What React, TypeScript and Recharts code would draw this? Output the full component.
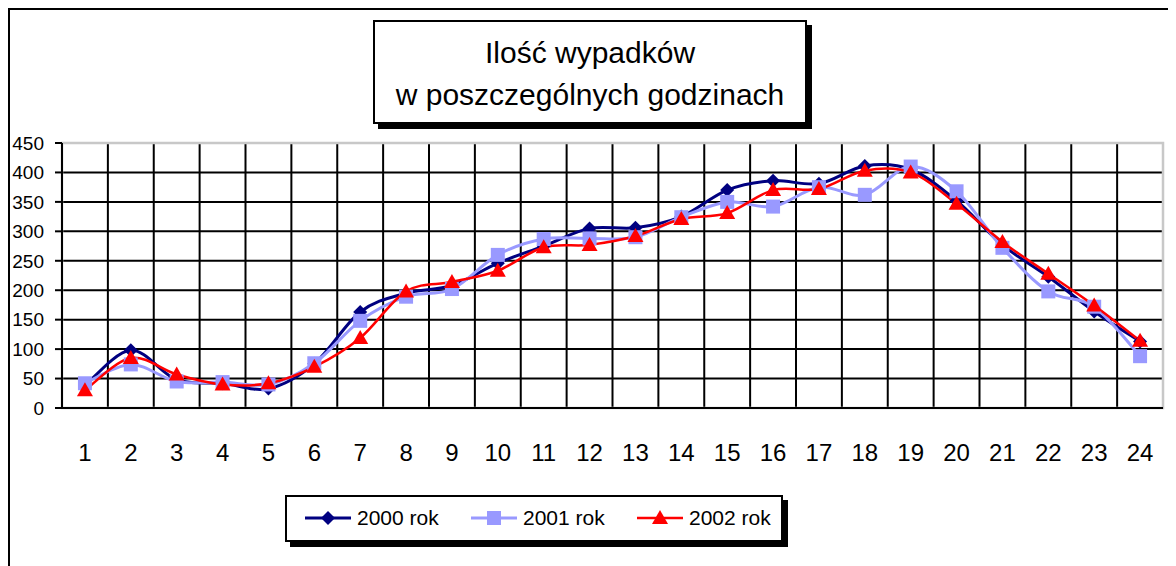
import React from "react";
import {
  LineChart,
  Line,
  XAxis,
  YAxis,
  CartesianGrid,
  Legend,
  ReferenceArea,
} from "recharts";

const hours = [1, 2, 3, 4, 5, 6, 7, 8, 9, 10, 11, 12, 13, 14, 15, 16, 17, 18, 19, 20, 21, 22, 23, 24];
const y2000 = [38, 98, 48, 42, 33, 75, 163, 195, 208, 246, 275, 305, 306, 325, 370, 386, 381, 411, 405, 352, 277, 223, 164, 113];
const y2001 = [42, 74, 45, 44, 40, 76, 148, 189, 202, 260, 287, 288, 290, 324, 350, 342, 375, 362, 410, 368, 272, 198, 172, 88];
const y2002 = [30, 85, 57, 40, 42, 70, 119, 198, 214, 233, 273, 277, 292, 321, 331, 370, 372, 403, 400, 347, 282, 228, 174, 114];
const yTicks = [0, 50, 100, 150, 200, 250, 300, 350, 400, 450];
const xBoundaryTicks = [0.5, 1.5, 2.5, 3.5, 4.5, 5.5, 6.5, 7.5, 8.5, 9.5, 10.5, 11.5, 12.5, 13.5, 14.5, 15.5, 16.5, 17.5, 18.5, 19.5, 20.5, 21.5, 22.5, 23.5, 24.5];
const xGridTicks = xBoundaryTicks.slice(0, 24);
const titleLines = ["Ilość wypadków", "w poszczególnych godzinach"];

const series = [
  { key: "y2000", name: "2000 rok", color: "#000080", width: 3, shape: "diamond" },
  { key: "y2001", name: "2001 rok", color: "#9999FF", width: 3, shape: "square" },
  { key: "y2002", name: "2002 rok", color: "#FF0000", width: 2.5, shape: "triangle" },
];

const data = hours.map((h, i) => ({ hour: h, y2000: y2000[i], y2001: y2001[i], y2002: y2002[i] }));

// Excel-like smoothed line (Catmull-Rom as cubic Bezier)
function excelSmooth(context: any) {
  let pts: number[][] = [];
  return {
    areaStart() {},
    areaEnd() {},
    lineStart() {
      pts = [];
    },
    point(x: number, y: number) {
      pts.push([+x, +y]);
    },
    lineEnd() {
      const n = pts.length;
      if (!n) return;
      context.moveTo(pts[0][0], pts[0][1]);
      for (let i = 0; i < n - 1; i++) {
        const p0 = pts[i - 1] || pts[i];
        const p1 = pts[i];
        const p2 = pts[i + 1];
        const p3 = pts[i + 2] || p2;
        const c1x = p1[0] + (p2[0] - p0[0]) / 6;
        const c1y = p1[1] + (p2[1] - p0[1]) / 6;
        const c2x = p2[0] - (p3[0] - p1[0]) / 6;
        const c2y = p2[1] - (p3[1] - p1[1]) / 6;
        context.bezierCurveTo(c1x, c1y, c2x, c2y, p2[0], p2[1]);
      }
    },
  };
}

function markerPath(shape: string, cx: number, cy: number) {
  if (shape === "diamond") {
    const r = 7;
    return `M${cx},${cy - r}L${cx + r},${cy}L${cx},${cy + r}L${cx - r},${cy}Z`;
  }
  if (shape === "square") {
    const r = 7;
    return `M${cx - r},${cy - r}H${cx + r}V${cy + r}H${cx - r}Z`;
  }
  const r = 8;
  return `M${cx},${cy - r}L${cx + r},${cy + 6}L${cx - r},${cy + 6}Z`;
}

const makeDot = (shape: string, color: string) => (props: any) => {
  const { cx, cy, index } = props;
  if (cx == null || cy == null) return <g key={index} />;
  return <path key={index} d={markerPath(shape, cx, cy)} fill={color} stroke="none" />;
};

const LegendContent = () => (
  <div
    style={{
      position: "relative",
      width: 494,
      height: 43,
      border: "2px solid #000",
      background: "#fff",
      boxShadow: "5px 5px 0 #000",
      fontFamily: "'Liberation Sans', Arial, sans-serif",
      fontSize: 21,
      color: "#000",
      boxSizing: "content-box",
    }}
  >
    {series.map((s, i) => (
      <div
        key={s.key}
        style={{ display: "flex", alignItems: "center", position: "absolute", top: 9, left: 18 + i * 166 }}
      >
        <svg width={48} height={24} style={{ display: "block" }}>
          <line x1={0} y1={12} x2={46} y2={12} stroke={s.color} strokeWidth={s.width} />
          <path d={markerPath(s.shape, 23, 12)} fill={s.color} />
        </svg>
        <span style={{ marginLeft: 4, lineHeight: "24px" }}>{s.name}</span>
      </div>
    ))}
  </div>
);

const gridLine = { stroke: "#000", strokeWidth: 2 };

export default function App() {
  return (
    <div
      style={{
        position: "relative",
        width: 1164,
        height: 560,
        border: "2px solid #000",
        borderBottom: "none",
        background: "#fff",
        overflow: "visible",
      }}
    >
      <LineChart
        width={1164}
        height={556}
        data={data}
        margin={{ top: 133, right: 11, left: 0, bottom: 59 }}
      >
        <CartesianGrid
          xAxisId="gx"
          yAxisId="y"
          stroke="#000"
          strokeWidth={2}
          strokeOpacity={1}
          horizontal={gridLine}
          vertical={gridLine}
        />
        <ReferenceArea
          xAxisId="b"
          yAxisId="y"
          x1={0.5}
          x2={24.5}
          y1={0}
          y2={450}
          fill="none"
          stroke="#c8c8c8"
          strokeWidth={2.5}
          ifOverflow="visible"
        />
        <XAxis
          xAxisId="a"
          type="number"
          dataKey="hour"
          domain={[0.5, 24.5]}
          ticks={xBoundaryTicks}
          tick={false}
          tickSize={9}
          height={9}
          axisLine={{ stroke: "#000", strokeWidth: 2 }}
          tickLine={{ stroke: "#000", strokeWidth: 2 }}
        />
        <XAxis
          xAxisId="b"
          type="number"
          dataKey="hour"
          domain={[0.5, 24.5]}
          ticks={hours}
          interval={0}
          axisLine={false}
          tickLine={false}
          tickSize={0}
          tickMargin={27}
          height={40}
          tick={{ fill: "#000", fontSize: 24, fontFamily: "'Liberation Sans', Arial, sans-serif" }}
        />
        <YAxis
          yAxisId="y"
          type="number"
          domain={[0, 450]}
          ticks={yTicks}
          interval={0}
          width={52}
          tickSize={7}
          tickMargin={11}
          axisLine={{ stroke: "#000", strokeWidth: 2 }}
          tickLine={{ stroke: "#000", strokeWidth: 2 }}
          tick={{ fill: "#000", fontSize: 19, fontFamily: "'Liberation Sans', Arial, sans-serif" }}
        />
        <XAxis xAxisId="gx" type="number" dataKey="hour" domain={[0.5, 24.5]} ticks={xGridTicks} hide height={0} />
        {series.map((s) => (
          <Line
            key={s.key}
            xAxisId="b"
            yAxisId="y"
            dataKey={s.key}
            name={s.name}
            type={excelSmooth as any}
            stroke={s.color}
            strokeWidth={s.width}
            dot={makeDot(s.shape, s.color)}
            activeDot={false}
            isAnimationActive={false}
          />
        ))}
        <Legend
          content={<LegendContent />}
          wrapperStyle={{ position: "absolute", left: 275, top: 485, width: 500, height: 50 }}
        />
      </LineChart>
      <div
        style={{
          position: "absolute",
          left: 363,
          top: 10,
          width: 430,
          height: 96,
          border: "2px solid #000",
          boxShadow: "5px 5px 0 #000",
          background: "#fff",
          display: "flex",
          flexDirection: "column",
          alignItems: "center",
          justifyContent: "center",
          paddingTop: 4,
          boxSizing: "content-box",
          fontFamily: "'Liberation Sans', Arial, sans-serif",
          fontSize: 30,
          lineHeight: "42px",
          color: "#000",
        }}
      >
        {titleLines.map((t) => (
          <div key={t}>{t}</div>
        ))}
      </div>
    </div>
  );
}
